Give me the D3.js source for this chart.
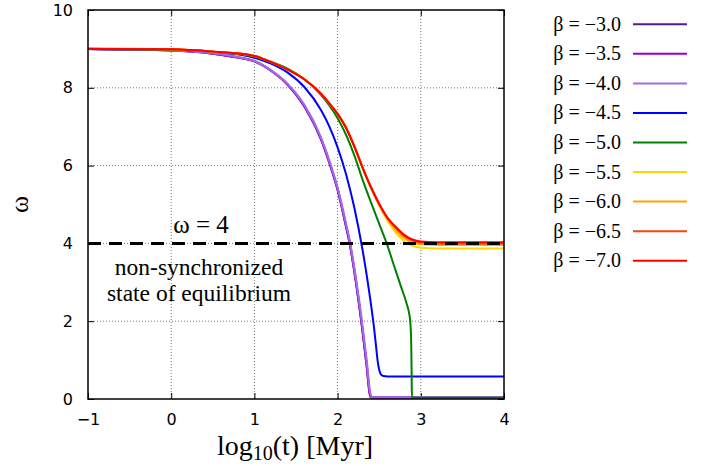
<!DOCTYPE html>
<html>
<head>
<meta charset="utf-8">
<script src="https://cdn.jsdelivr.net/npm/d3@7"></script>
<style>
  body { margin: 0; background: #fff; }
  svg { display: block; }
</style>
</head>
<body>
<div id="chart"></div>
<script>
var width = 719;
var height = 466;

// tick values
var xTicks = [-1, 0, 1, 2, 3, 4];
var yTicks = [0, 2, 4, 6, 8, 10];

// legend labels and colours, same order as the series below
var betaLabels = ["\u22123.0", "\u22123.5", "\u22124.0", "\u22124.5", "\u22125.0",
                  "\u22125.5", "\u22126.0", "\u22126.5", "\u22127.0"];
var betaColors = ["#551a8b", "#9400d3", "#a36ae6", "#0000ff", "#008000",
                  "#ffd700", "#ffa500", "#ff4500", "#ff0000"];

// [log10(t), omega]
var b30 = [[-1, 9.0], [0, 8.96], [0.5, 8.88], [0.8, 8.78], [1.0, 8.68], [1.2, 8.44], [1.4, 8.08],
           [1.6, 7.53], [1.8, 6.68], [1.9, 6.08], [2.0, 5.38], [2.1, 4.45], [2.15, 3.95], [2.2, 3.3],
           [2.3, 1.75], [2.35, 0.85], [2.385, 0.15], [2.40, 0.05], [2.45, 0.04], [4, 0.04]];
var b35 = [[-1, 9.0], [0, 8.96], [0.5, 8.88], [0.8, 8.78], [1.0, 8.68], [1.2, 8.44], [1.4, 8.08],
           [1.6, 7.53], [1.8, 6.69], [1.9, 6.09], [2.0, 5.39], [2.1, 4.46], [2.15, 3.96], [2.2, 3.31],
           [2.3, 1.76], [2.35, 0.86], [2.385, 0.16], [2.40, 0.05], [2.45, 0.03], [4, 0.03]];
var b40 = [[-1, 9.0], [0, 8.96], [0.5, 8.89], [0.8, 8.79], [1.0, 8.69], [1.2, 8.45], [1.4, 8.1],
           [1.6, 7.56], [1.8, 6.72], [1.9, 6.13], [2.0, 5.43], [2.1, 4.52], [2.15, 4.02], [2.2, 3.38],
           [2.3, 1.86], [2.35, 0.98], [2.39, 0.18], [2.41, 0.05], [2.46, 0.04], [4, 0.04]];
var b45 = [[-1, 9.0], [0, 8.98], [0.5, 8.93], [1.0, 8.77], [1.2, 8.62], [1.4, 8.39], [1.6, 8.02],
           [1.8, 7.43], [1.9, 7.01], [2.0, 6.47], [2.1, 5.79], [2.2, 4.93], [2.3, 3.83], [2.35, 3.18],
           [2.4, 2.45], [2.44, 1.79], [2.46, 1.4], [2.48, 1.0], [2.50, 0.75], [2.52, 0.63],
           [2.55, 0.59], [2.6, 0.58], [4, 0.58]];
var b50 = [[-1, 9.0], [0, 8.98], [0.5, 8.93], [1.0, 8.8], [1.2, 8.67], [1.4, 8.49], [1.6, 8.22],
           [1.8, 7.82], [1.9, 7.55], [2.0, 7.22], [2.1, 6.8], [2.2, 6.27], [2.3, 5.64], [2.4, 5.06],
           [2.5, 4.5], [2.59, 4.0], [2.69, 3.35], [2.76, 2.9], [2.83, 2.45], [2.86, 2.2],
           [2.875, 1.95], [2.885, 1.4], [2.89, 0.6], [2.893, 0.03], [2.95, 0.03], [4, 0.03]];
var b55 = [[-1, 9.0], [0, 8.99], [0.5, 8.93], [1.0, 8.82], [1.2, 8.66], [1.4, 8.47], [1.6, 8.22],
           [1.8, 7.85], [1.9, 7.6], [2.0, 7.33], [2.1, 6.97], [2.2, 6.49], [2.3, 5.94], [2.4, 5.43],
           [2.5, 4.97], [2.6, 4.58], [2.7, 4.28], [2.8, 4.06], [2.9, 3.94], [3.0, 3.89], [3.2, 3.87], [4, 3.87]];
var b60 = [[-1, 9.02], [-0.7, 9.01], [0, 8.99], [0.5, 8.93], [1.0, 8.82], [1.2, 8.66], [1.4, 8.47],
           [1.6, 8.22], [1.8, 7.85], [1.9, 7.6], [2.0, 7.33], [2.1, 6.98], [2.2, 6.5], [2.3, 5.95],
           [2.4, 5.44], [2.5, 5.0], [2.6, 4.62], [2.7, 4.35], [2.8, 4.14], [2.9, 4.02], [3.0, 3.98],
           [3.2, 3.96], [4, 3.96]];
var b65 = [[-1, 9.0], [0, 8.99], [0.5, 8.93], [1.0, 8.82], [1.2, 8.66], [1.4, 8.47], [1.6, 8.22],
           [1.8, 7.85], [1.9, 7.6], [2.0, 7.33], [2.1, 6.98], [2.2, 6.5], [2.3, 5.95], [2.4, 5.45],
           [2.5, 5.01], [2.6, 4.65], [2.7, 4.4], [2.8, 4.19], [2.9, 4.07], [3.0, 4.02], [3.2, 4.0], [4, 4.0]];
var b70 = [[-1, 9.0], [0, 8.99], [0.5, 8.93], [1.0, 8.82], [1.2, 8.66], [1.4, 8.47], [1.6, 8.22],
           [1.8, 7.85], [1.9, 7.6], [2.0, 7.33], [2.1, 6.98], [2.2, 6.5], [2.3, 5.95], [2.4, 5.45],
           [2.5, 5.02], [2.6, 4.66], [2.7, 4.42], [2.8, 4.22], [2.9, 4.1], [3.0, 4.05], [3.2, 4.03], [4, 4.03]];
var allSeries = [b30, b35, b40, b45, b50, b55, b60, b65, b70];

var omegaLine = 4;

var plot = { left: 88, right: 504, top: 10, bottom: 399 };

var svg = d3.select("#chart").append("svg")
        .attr("width", width)
        .attr("height", height);

var x = d3.scaleLinear().domain([-1, 4]).range([plot.left, plot.right]);
var y = d3.scaleLinear().domain([0, 10]).range([plot.bottom, plot.top]);

// dotted grid
var grid = svg.append("g").attr("class", "grid")
        .attr("stroke", "#777")
        .attr("stroke-width", 1)
        .attr("stroke-dasharray", "1,2");
grid.selectAll("line.gx")
        .data(xTicks.slice(1, -1))
        .enter().append("line")
        .attr("x1", function (d) { return x(d); })
        .attr("x2", function (d) { return x(d); })
        .attr("y1", plot.top)
        .attr("y2", plot.bottom);
grid.selectAll("line.gy")
        .data(yTicks.slice(1, -1))
        .enter().append("line")
        .attr("y1", function (d) { return y(d); })
        .attr("y2", function (d) { return y(d); })
        .attr("x1", plot.left)
        .attr("x2", plot.right);

// axes, ticks point inward like gnuplot
var fmt = d3.format("d");
var axB = svg.append("g")
        .attr("transform", "translate(0," + plot.bottom + ")")
        .call(d3.axisBottom(x).tickValues(xTicks).tickFormat(fmt).tickSizeInner(-6).tickSizeOuter(0).tickPadding(15));
var axL = svg.append("g")
        .attr("transform", "translate(" + plot.left + ",0)")
        .call(d3.axisLeft(y).tickValues(yTicks).tickFormat(fmt).tickSizeInner(-6).tickSizeOuter(0).tickPadding(15));
var axT = svg.append("g")
        .attr("transform", "translate(0," + plot.top + ")")
        .call(d3.axisTop(x).tickValues(xTicks).tickFormat("").tickSizeInner(-6).tickSizeOuter(0));
var axR = svg.append("g")
        .attr("transform", "translate(" + plot.right + ",0)")
        .call(d3.axisRight(y).tickValues(yTicks).tickFormat("").tickSizeInner(-6).tickSizeOuter(0));

[axB, axL, axT, axR].forEach(function (a) {
    a.select(".domain").remove();
    a.selectAll(".tick line").attr("stroke", "#000").attr("stroke-width", 1);
    a.selectAll("text")
            .attr("font-family", "DejaVu Sans, sans-serif")
            .attr("font-size", 16)
            .attr("fill", "#000");
});

// curves
var line = d3.line()
        .x(function (d) { return x(d[0]); })
        .y(function (d) { return y(d[1]); })
        .curve(d3.curveMonotoneX);

var curves = svg.append("g").attr("class", "curves");
allSeries.forEach(function (s, i) {
    curves.append("path")
            .attr("d", line(s))
            .attr("fill", "none")
            .attr("stroke", betaColors[i])
            .attr("stroke-width", i < 3 ? 2.2 : 2)
            .attr("stroke-linejoin", "round");
});

// omega = 4 dashed line
svg.append("line")
        .attr("x1", x(-1))
        .attr("x2", x(4))
        .attr("y1", y(omegaLine))
        .attr("y2", y(omegaLine))
        .attr("stroke", "#000")
        .attr("stroke-width", 3)
        .attr("stroke-dasharray", "13,8");

// border
svg.append("rect")
        .attr("x", plot.left)
        .attr("y", plot.top)
        .attr("width", plot.right - plot.left)
        .attr("height", plot.bottom - plot.top)
        .attr("fill", "none")
        .attr("stroke", "#000")
        .attr("stroke-width", 1.5);

// annotations
var serif = "Liberation Serif, Times New Roman, serif";
svg.append("text")
        .attr("x", 201).attr("y", 233)
        .attr("text-anchor", "middle")
        .attr("font-family", serif).attr("font-size", 25)
        .text("\u03c9 = 4");
svg.append("text")
        .attr("x", 199).attr("y", 275)
        .attr("text-anchor", "middle")
        .attr("font-family", serif).attr("font-size", 23.5)
        .text("non-synchronized");
svg.append("text")
        .attr("x", 199).attr("y", 301)
        .attr("text-anchor", "middle")
        .attr("font-family", serif).attr("font-size", 23.5)
        .text("state of equilibrium");

// axis titles
var xt = svg.append("text")
        .attr("x", 295).attr("y", 455)
        .attr("text-anchor", "middle")
        .attr("font-family", serif).attr("font-size", 28);
xt.append("tspan").text("log");
xt.append("tspan").attr("font-size", 20).attr("dy", 5).text("10");
xt.append("tspan").attr("dy", -5).text("(t) [Myr]");

svg.append("text")
        .attr("transform", "translate(28," + y(5) + ") rotate(-90)")
        .attr("text-anchor", "middle")
        .attr("font-family", serif).attr("font-size", 26)
        .text("\u03c9");

// legend
var legend = svg.append("g").attr("class", "legend");
betaLabels.forEach(function (lab, i) {
    var ly = 24.3 + i * 29.55;
    legend.append("text")
            .attr("x", 621).attr("y", ly + 6.5)
            .attr("text-anchor", "end")
            .attr("font-family", serif).attr("font-size", 20)
            .text("\u03b2 = " + lab);
    legend.append("line")
            .attr("x1", 633).attr("x2", 687)
            .attr("y1", ly).attr("y2", ly)
            .attr("stroke", betaColors[i])
            .attr("stroke-width", 2);
});
</script>
</body>
</html>
